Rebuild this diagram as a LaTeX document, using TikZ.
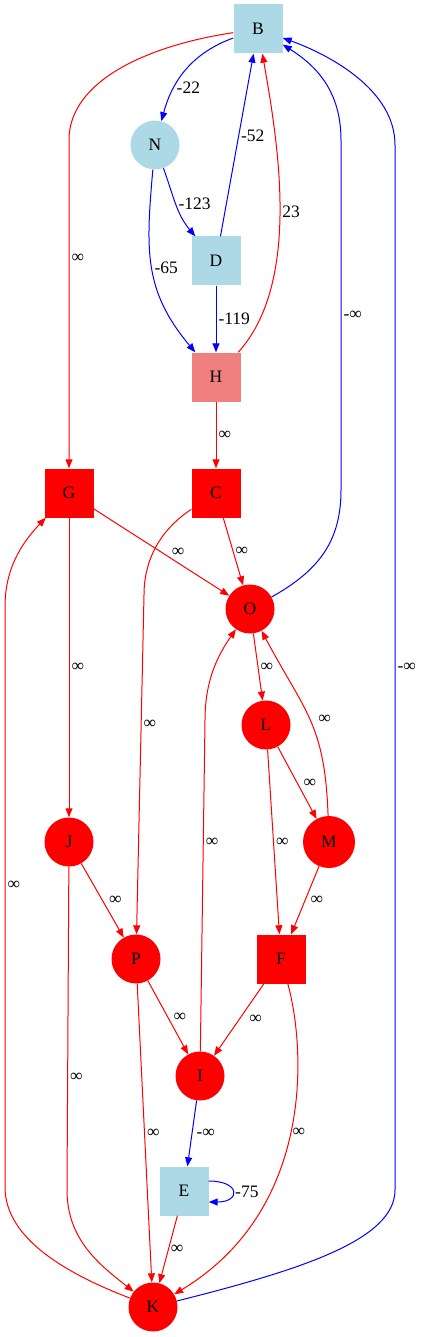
\documentclass[tikz,border=0pt]{standalone}
\usepackage{fontspec}
\setmainfont{Liberation Serif}
\usepackage{tikz}
\usetikzlibrary{arrows.meta}
\tikzset{>={Triangle[length=9pt,width=7pt]}}
\definecolor{LBcol}{HTML}{ADD8E6}
\definecolor{LCcol}{HTML}{F08080}
\tikzset{
  squarenode/.style={rectangle,minimum size=49pt,inner sep=0pt},
  circlenode/.style={circle,minimum size=49pt,inner sep=0pt,fill=red},
  redarc/.style={->,line width=1pt,red},
  bluearc/.style={->,line width=1pt,blue},
  weight/.style={right,inner sep=2pt,text=black},
}

\begin{document}
\begin{tikzpicture}[x=1pt,y=1pt,font=\fontsize{17.5}{20}\selectfont]
    \useasboundingbox (0,0) rectangle (420,-1337);
    \node[squarenode,fill=LBcol] (B) at (258,-29) {B};
    \node[circlenode,fill=LBcol] (N) at (155,-145) {N};
    \node[squarenode,fill=LBcol] (D) at (216,-261) {D};
    \node[squarenode,fill=LCcol] (H) at (216,-377) {H};
    \node[squarenode,fill=red] (G) at (69,-493) {G};
    \node[squarenode,fill=red] (C) at (216,-493) {C};
    \node[circlenode] (O) at (250,-609) {O};
    \node[circlenode] (L) at (266,-725) {L};
    \node[circlenode,minimum size=52pt] (M) at (329,-842) {M};
    \node[circlenode] (J) at (69,-842) {J};
    \node[circlenode] (P) at (136,-959) {P};
    \node[squarenode,fill=red] (F) at (281,-959) {F};
    \node[circlenode] (I) at (200,-1076) {I};
    \node[squarenode,fill=LBcol] (E) at (184,-1191) {E};
    \node[circlenode] (K) at (153,-1307) {K};

    \draw[bluearc] (B) to[out=200,in=75] node[weight,pos=0.7] {-22} (N);
    \draw[bluearc] (N) to[out=-70,in=130] node[weight] {-123} (D);
    \draw[bluearc] (N) to[out=-95,in=130,looseness=1.1] node[weight] {-65} (H);
    \draw[bluearc] (D) -- node[weight,pos=0.55] {-52} (B);
    \draw[redarc] (H) to[out=48,in=-80,looseness=0.8] node[weight] {23} (B);
    \draw[bluearc] (D) -- node[weight] {-119} (H);
    \draw[redarc] (B) .. controls (150,-45) and (69,-80) .. (69,-140)
        -- node[weight,pos=0.36] {∞} (G);
    \draw[redarc] (H) -- node[weight] {∞} (C);
    \draw[bluearc] (O) .. controls (320,-570) and (341,-540) .. (341,-490)
        -- node[weight] {-∞} (341,-140) .. controls (341,-90) and (315,-65) .. (B);
    \draw[bluearc] (K) .. controls (300,-1270) and (395,-1240) .. (395,-1190)
        -- node[weight] {-∞} (395,-145) .. controls (395,-90) and (330,-55) .. (B);
    \draw[redarc] (G) -- node[weight,right=8pt] {∞} (O);
    \draw[redarc] (C) -- node[weight] {∞} (O);
    \draw[redarc] (C) .. controls (160,-530) and (144,-560) .. (144,-595)
        -- node[weight,pos=0.38] {∞} (P);
    \draw[redarc] (G) -- node[weight] {∞} (J);
    \draw[redarc] (O) -- node[weight] {∞} (L);
    \draw[redarc] (M) to[out=92,in=-62,looseness=1.2] node[weight,right=6pt] {∞} (O);
    \draw[redarc] (L) -- node[weight,right=4pt] {∞} (M);
    \draw[redarc] (L) -- node[weight] {∞} (F);
    \draw[redarc] (I) -- node[weight,pos=0.63] {∞} (205,-720)
        .. controls (205,-680) and (218,-655) .. (O);
    \draw[redarc] (K) .. controls (70,-1275) and (5,-1240) .. (5,-1187)
        -- node[weight,pos=0.52] {∞} (5,-607) .. controls (5,-570) and (20,-545) .. (G);
    \draw[redarc] (J) -- node[weight,right=4pt] {∞} (P);
    \draw[redarc] (J) -- node[weight,pos=0.65] {∞} (67,-1190)
        .. controls (67,-1240) and (100,-1265) .. (K);
    \draw[redarc] (M) -- node[weight,right=3pt] {∞} (F);
    \draw[redarc] (P) -- node[weight,right=3pt] {∞} (I);
    \draw[redarc] (F) -- node[weight,right=8pt] {∞} (I);
    \draw[redarc] (P) -- node[weight] {∞} (K);
    \draw[redarc] (F) .. controls (306,-1050) and (314,-1210) .. node[weight] {∞} (K);
    \draw[bluearc] (I) -- node[weight,right=2pt] {-∞} (E);
    \draw[bluearc] ([yshift=10pt]E.east) .. controls +(32,0) and +(32,0) ..
        node[weight] {-75} ([yshift=-11pt]E.east);
    \draw[redarc] (E) -- node[weight] {∞} (K);
\end{tikzpicture}
\end{document}
